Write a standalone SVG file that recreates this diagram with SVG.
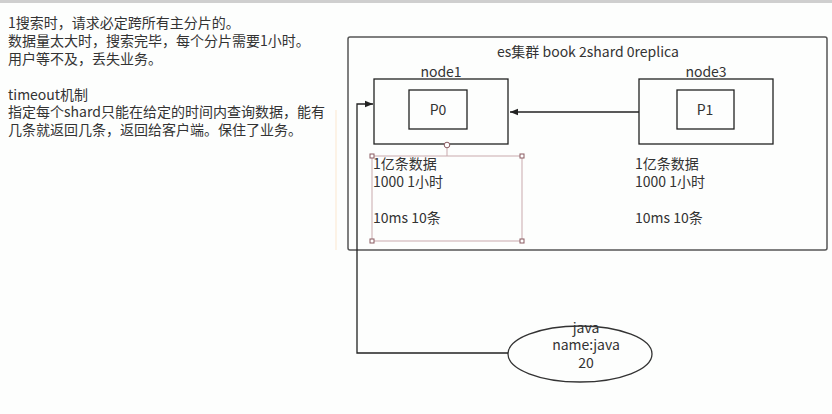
<svg xmlns="http://www.w3.org/2000/svg" width="832" height="414" viewBox="0 0 832 414">
  <defs>
    <style>
      text { font-family: "Noto Sans CJK SC", "Noto Sans", sans-serif; fill: #333; }
      .note { font-size: 14px; }
      .lbl { font-size: 14px; }
      .box { fill: none; stroke: #222; stroke-width: 1.3; }
      .frame { fill: none; stroke: #555; stroke-width: 1.5; }
      .conn { fill: none; stroke: #222; stroke-width: 1.3; }
      .sel { fill: none; stroke: #c9a9ad; stroke-width: 1; }
      .handle { fill: #fff; stroke: #8a5a60; stroke-width: 1; }
    </style>
    <marker id="arrow" viewBox="0 0 10 10" refX="10" refY="5" markerWidth="8" markerHeight="8" markerUnits="userSpaceOnUse" orient="auto">
      <path d="M0,1 L10,5 L0,9 z" fill="#222"/>
    </marker>
  </defs>

  <rect x="0" y="0" width="832" height="414" fill="#fdfefd"/>
  <rect x="0" y="0" width="832" height="3" fill="#cfcfcf"/>
  <line x1="336" y1="110" x2="336" y2="250" stroke="#fbe7cf" stroke-width="1"/>

  <!-- notes on the left -->
  <g id="notes" class="note">
    <text x="8" y="28">1搜索时，请求必定跨所有主分片的。</text>
    <text x="8" y="46">数据量太大时，搜索完毕，每个分片需要1小时。</text>
    <text x="8" y="64">用户等不及，丢失业务。</text>
    <text x="8" y="100">timeout机制</text>
    <text x="8" y="117">指定每个shard只能在给定的时间内查询数据，能有</text>
    <text x="8" y="135">几条就返回几条，返回给客户端。保住了业务。</text>
  </g>

  <!-- cluster frame -->
  <g id="cluster">
    <rect class="frame" x="348" y="37" width="479" height="213" rx="2"/>
    <text class="lbl" x="588" y="57" text-anchor="middle">es集群 book 2shard 0replica</text>
  </g>

  <g id="node1">
    <text class="lbl" x="441" y="77" text-anchor="middle">node1</text>
    <rect class="box" x="374" y="79" width="134" height="65"/>
  </g>
  <g id="p0">
    <rect class="box" x="409" y="90" width="58" height="39"/>
    <text class="lbl" x="438" y="115" text-anchor="middle">P0</text>
  </g>

  <g id="node3">
    <text class="lbl" x="706" y="77" text-anchor="middle">node3</text>
    <rect class="box" x="639" y="79" width="134" height="65"/>
  </g>
  <g id="p1">
    <rect class="box" x="677" y="90" width="57" height="39"/>
    <text class="lbl" x="705" y="115" text-anchor="middle">P1</text>
  </g>

  <!-- shard notes -->
  <g id="note1">
    <line x1="447" y1="148" x2="447" y2="156" stroke="#c9a9ad" stroke-width="1"/>
    <rect class="sel" x="372" y="156" width="150" height="85"/>
    <circle class="handle" cx="447" cy="145" r="2.8"/>
    <rect class="handle" x="370" y="154" width="4" height="4"/>
    <rect class="handle" x="520" y="154" width="4" height="4"/>
    <rect class="handle" x="370" y="239" width="4" height="4"/>
    <rect class="handle" x="520" y="239" width="4" height="4"/>
    <text class="lbl" x="373" y="169">1亿条数据</text>
    <text class="lbl" x="373" y="187">1000 1小时</text>
    <text class="lbl" x="373" y="223">10ms 10条</text>
  </g>
  <g id="note3">
    <text class="lbl" x="635" y="169">1亿条数据</text>
    <text class="lbl" x="635" y="187">1000 1小时</text>
    <text class="lbl" x="635" y="223">10ms 10条</text>
  </g>

  <!-- client -->
  <g id="client">
    <ellipse cx="580" cy="354" rx="72" ry="28" fill="#fdfefd" stroke="#333" stroke-width="1.3"/>
    <text class="lbl" x="586" y="333" text-anchor="middle">java</text>
    <text class="lbl" x="586" y="350" text-anchor="middle">name:java</text>
    <text class="lbl" x="586" y="368" text-anchor="middle">20</text>
  </g>

  <!-- connectors -->
  <g id="connectors">
    <line class="conn" x1="639" y1="112" x2="510" y2="112" marker-end="url(#arrow)"/>
    <polyline class="conn" points="508,353 357,353 357,104 373,104" marker-end="url(#arrow)"/>
  </g>
</svg>
